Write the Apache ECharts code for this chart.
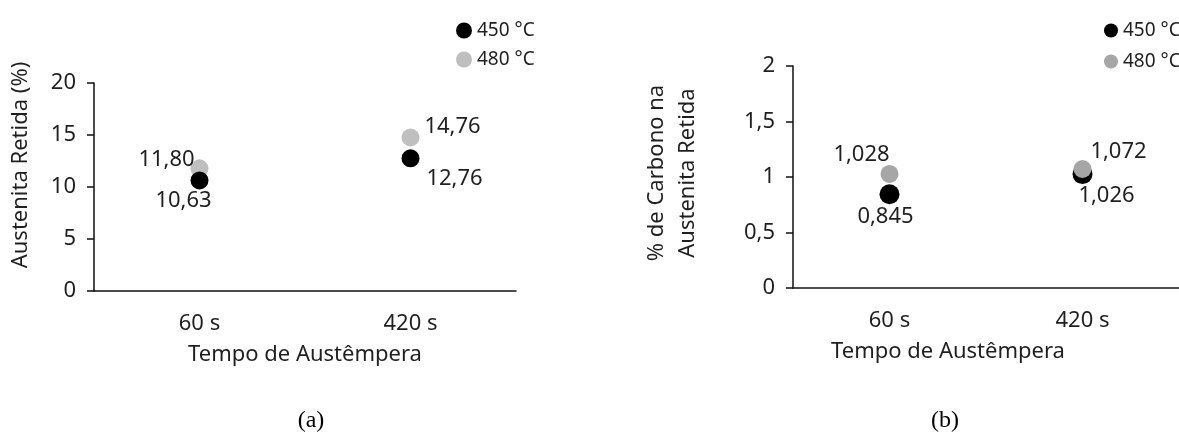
<!DOCTYPE html>
<html>
<head>
<meta charset="utf-8">
<script src="https://cdn.jsdelivr.net/npm/echarts@6/dist/echarts.min.js"></script>
<style>
html,body{margin:0;padding:0;background:#fff;}
#chart{width:1179px;height:437px;}
</style>
</head>
<body>
<div id="chart"></div>
<script>
// ---- data ----
var categories = ['60 s', '420 s'];
var seriesNames = ['450 °C', '480 °C'];
// (a) Austenita Retida (%)
var austA450 = [10.63, 12.76];
var austA480 = [11.80, 14.76];
var yTicksA = [0, 5, 10, 15, 20];
// (b) % de Carbono na Austenita Retida
var carbB450 = [0.845, 1.026];
var carbB480 = [1.028, 1.072];
var yTicksB = [0, 0.5, 1, 1.5, 2];

var FONT = 'Noto Sans';
var TXT = '#1f1f1f';
function comma(v, d) {
  var s = (d == null) ? String(v) : v.toFixed(d);
  return s.replace('.', ',');
}
function yAxisCfg(ticks, gridIndex, name, nameGap, namePad) {
  return {
    type: 'value', gridIndex: gridIndex,
    min: ticks[0], max: ticks[ticks.length - 1], interval: ticks[1] - ticks[0],
    name: name, nameLocation: 'middle', nameGap: nameGap,
    nameTextStyle: {fontFamily: FONT, fontSize: 22, color: TXT, padding: namePad, lineHeight: 31},
    axisLine: {show: true, lineStyle: {color: '#111', width: 1.5}},
    axisTick: {show: true, inside: false, length: 7, lineStyle: {color: '#111', width: 1.5}},
    splitLine: {show: false},
    axisLabel: {fontFamily: FONT, fontSize: 22, color: TXT, margin: 18,
      formatter: function (v) { return comma(v); }}
  };
}
function xAxisCfg(gridIndex, namePad) {
  return {
    type: 'category', gridIndex: gridIndex, data: categories, boundaryGap: true,
    name: 'Tempo de Austêmpera', nameLocation: 'middle', nameGap: 53,
    nameTextStyle: {fontFamily: FONT, fontSize: 22, color: TXT, padding: namePad},
    axisLine: {show: true, lineStyle: {color: '#111', width: 1.5}},
    axisTick: {show: false},
    axisLabel: {fontFamily: FONT, fontSize: 22, color: TXT, margin: 22}
  };
}
function labelCfg(offsets, d) {
  return function (idx) {
    return {show: true, position: 'inside', offset: offsets[idx],
      fontFamily: FONT, fontSize: 22, color: TXT,
      formatter: function (p) { return comma(p.value, d); }};
  };
}
function buildData(values, labelFn) {
  return values.map(function (v, i) { return {value: v, label: labelFn(i)}; });
}

var option = {
  backgroundColor: '#fff',
  animation: false,
  grid: [
    {left: 94, top: 83, width: 422, height: 208},
    {left: 793, top: 66, width: 392, height: 222}
  ],
  xAxis: [xAxisCfg(0, [0, 0, 0, 0]), xAxisCfg(1, [0, 76, 0, 0])],
  yAxis: [
    yAxisCfg(yTicksA, 0, 'Austenita Retida (%)', 58, [0, 0, 0, 44]),
    yAxisCfg(yTicksB, 1, '% de Carbono na\nAustenita Retida', 90, [0, 0, 0, 8])
  ],
  legend: [
    {orient: 'vertical', left: 451, top: 16, itemWidth: 16, itemHeight: 16, itemGap: 10,
     icon: 'circle', textStyle: {fontFamily: FONT, fontSize: 19, color: TXT, lineHeight: 16},
     data: [{name: seriesNames[0], itemStyle: {color: '#000'}},
            {name: seriesNames[1], itemStyle: {color: '#bfbfbf'}}]},
    {orient: 'vertical', left: 1099, top: 16, itemWidth: 14, itemHeight: 14, itemGap: 12,
     icon: 'circle', textStyle: {fontFamily: FONT, fontSize: 19, color: TXT, lineHeight: 14},
     data: [{name: seriesNames[0], itemStyle: {color: '#000'}},
            {name: seriesNames[1], itemStyle: {color: '#a6a6a6'}}]}
  ],
  graphic: [
    {type: 'text', x: 311, y: 421, style: {text: '(a)', font: '24px "Liberation Serif"', fill: '#000', align: 'center', verticalAlign: 'middle'}},
    {type: 'text', x: 945, y: 421, style: {text: '(b)', font: '24px "Liberation Serif"', fill: '#000', align: 'center', verticalAlign: 'middle'}}
  ],
  series: [
    {name: seriesNames[1], type: 'scatter', xAxisIndex: 0, yAxisIndex: 0, symbolSize: 18, z: 2,
     itemStyle: {color: '#bfbfbf', opacity: 1},
     data: buildData(austA480, labelCfg([[-33, -9], [42, -11]], 2))},
    {name: seriesNames[0], type: 'scatter', xAxisIndex: 0, yAxisIndex: 0, symbolSize: 18, z: 3,
     itemStyle: {color: '#000', opacity: 1},
     data: buildData(austA450, labelCfg([[-16, 20], [44, 20]], 2))},
    {name: seriesNames[0], type: 'scatter', xAxisIndex: 1, yAxisIndex: 1, symbolSize: 20, z: 2,
     itemStyle: {color: '#000', opacity: 1},
     data: buildData(carbB450, labelCfg([[-4, 23], [24, 22]], 3))},
    {name: seriesNames[1], type: 'scatter', xAxisIndex: 1, yAxisIndex: 1, symbolSize: 18, z: 3,
     itemStyle: {color: '#a6a6a6', opacity: 1},
     data: buildData(carbB480, labelCfg([[-28, -19], [36, -17]], 3))}
  ]
};
var chart = echarts.init(document.getElementById('chart'), null, {renderer: 'canvas'});
chart.setOption(option);
</script>
</body>
</html>
